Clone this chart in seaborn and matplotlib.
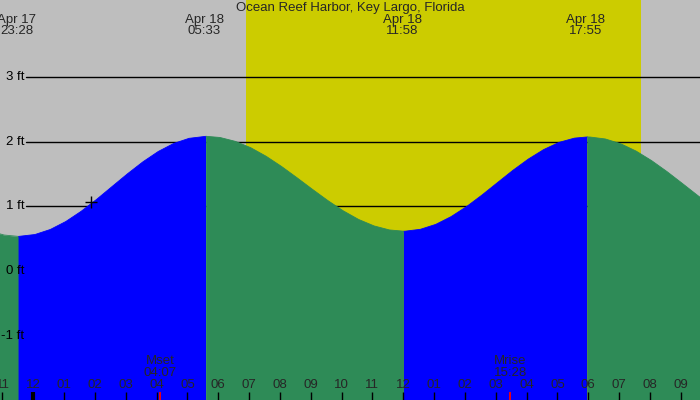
import numpy as np
import pandas as pd
import matplotlib
matplotlib.use("Agg")
import matplotlib.pyplot as plt
import matplotlib.transforms as mtransforms
import seaborn as sns

# ---------------- data ----------------
title = "Ocean Reef Harbor, Key Largo, Florida"

# hours relative to Apr 18 00:00
extreme_hours = [-0.533, 5.55, 11.967, 17.917]
extreme_heights = [0.54, 2.08, 0.62, 2.07]
extreme_dates = ["Apr 17", "Apr 18", "Apr 18", "Apr 18"]
extreme_times = ["23:28", "05:33", "11:58", "17:55"]

tide_hours = [-1.5, -1.0, -0.533, 0.0, 0.5, 1.0, 1.5, 2.0, 2.5, 3.0, 3.5, 4.0, 4.5,
              5.0, 5.55, 6.0, 6.5, 7.0, 7.5, 8.0, 8.5, 9.0, 9.5, 10.0, 10.5, 11.0,
              11.5, 11.967, 12.0, 12.5, 13.0, 13.5, 14.0, 14.5, 15.0, 15.5, 16.0,
              16.5, 17.0, 17.5, 17.917, 18.0, 18.5, 19.0, 19.5, 20.0, 20.5, 21.0,
              21.5, 22.0]
tide_heights = [0.627, 0.561, 0.540, 0.569, 0.647, 0.769, 0.927, 1.110, 1.307, 1.503,
                1.687, 1.847, 1.970, 2.049, 2.080, 2.062, 2.002, 1.904, 1.772, 1.615,
                1.442, 1.264, 1.091, 0.933, 0.800, 0.701, 0.639, 0.620, 0.620, 0.649,
                0.725, 0.845, 0.999, 1.177, 1.367, 1.556, 1.729, 1.876, 1.987, 2.052,
                2.070, 2.069, 2.039, 1.965, 1.852, 1.706, 1.537, 1.354, 1.168, 0.991]

sunrise_hour = 6.9
sunset_hour = 19.71

moon_hours = [4.117, 15.467]
moon_names = ["Mset", "Mrise"]
moon_times = ["04:07", "15:28"]

now_hour = 1.86
now_height = 1.075

hour_ticks = list(range(-1, 22))
hour_labels = ["11", "12", "01", "02", "03", "04", "05", "06", "07", "08", "09", "10",
               "11", "12", "01", "02", "03", "04", "05", "06", "07", "08", "09"]
midnight_hour = 0

ft_levels = [3, 2, 1, 0, -1]
ft_labels = ["3 ft", "2 ft", "1 ft", "0 ft", "-1 ft"]
grid_levels = [3, 2, 1]

# ---------------- style ----------------
GREY = "#bebebe"
YELLOW = "#cccc00"
BLUE = "#0000ff"
GREEN = "#2e8b57"

sns.set_style("white")
plt.rcParams["font.family"] = ["Liberation Sans", "DejaVu Sans"]
FS = 9.5

fig = plt.figure(figsize=(7, 4), dpi=100, facecolor=GREY)
ax = fig.add_axes([0, 0, 1, 1])
ax.set_facecolor(GREY)
ax.set_xlim(-1.08, 21.625)
ax.set_ylim(-1.977, 4.177)
ax.axis("off")

# daylight
ax.axvspan(sunrise_hour, sunset_hour, color=YELLOW, lw=0, zorder=0)

# grid lines
for lv in grid_levels:
    ax.axhline(lv, xmin=26 / 700, xmax=1, color="black", lw=1.0, zorder=1)

# tide fill (shifted ~1.7 px right, as in the reference rendering)
shift = ax.transData + mtransforms.ScaledTranslation(1.7 / 100, 0, fig.dpi_scale_trans)
df = pd.DataFrame({"hour": tide_hours, "height": tide_heights})
bounds = [-np.inf] + extreme_hours + [np.inf]
for i in range(len(bounds) - 1):
    a, b = bounds[i], bounds[i + 1]
    seg = df[(df["hour"] >= a) & (df["hour"] <= b)]
    if i < len(extreme_hours):
        rising = extreme_heights[i] > 1.3
    else:
        rising = extreme_heights[-1] < 1.3
    col = BLUE if rising else GREEN
    ax.fill_between(seg["hour"], -5, seg["height"], color=col, lw=0, zorder=2,
                    transform=shift)
    sns.lineplot(data=seg, x="hour", y="height", ax=ax, color=col, lw=0.6,
                 sort=False, estimator=None, zorder=2, legend=False, transform=shift)
ax.set_xlim(-1.08, 21.625)
ax.set_ylim(-1.977, 4.177)
ax.axis("off")

# now marker
ax.plot([now_hour], [now_height], marker="+", ms=8, mew=1.0, color="black", zorder=4)

# y labels
ytr = mtransforms.blended_transform_factory(ax.transAxes, ax.transData)
for lv, lab in zip(ft_levels, ft_labels):
    ax.text(24.5 / 700, lv, lab, transform=ytr, ha="right", va="center",
            fontsize=FS, color="black", zorder=5)

# top labels
xtr = ax.get_xaxis_transform()
ax.text(0.5, 1 - 7.5 / 400, title, transform=ax.transAxes, ha="center", va="center",
        fontsize=FS, zorder=5)
for h, d, t in zip(extreme_hours, extreme_dates, extreme_times):
    ax.text(h, 1 - 19.5 / 400, d, transform=xtr, ha="center", va="center", fontsize=FS, zorder=5)
    ax.text(h, 1 - 31.5 / 400, t, transform=xtr, ha="center", va="center", fontsize=FS, zorder=5)

# bottom hour labels and ticks
for h, lab in zip(hour_ticks, hour_labels):
    ax.text(h, 14.5 / 400, lab, transform=xtr, ha="center", va="center", fontsize=FS, zorder=5)
    lw = 3 if h == midnight_hour else 1
    ax.plot([h, h], [0, 8 / 400], transform=xtr, color="black", lw=lw,
            solid_capstyle="butt", zorder=5)

# moon
for h, n, t in zip(moon_hours, moon_names, moon_times):
    ax.plot([h, h], [0, 8 / 400], transform=xtr, color="red", lw=1.3,
            solid_capstyle="butt", zorder=6)
    ax.text(h, 1 - 361.5 / 400, n, transform=xtr, ha="center", va="center", fontsize=FS, zorder=5)
    ax.text(h, 1 - 373.5 / 400, t, transform=xtr, ha="center", va="center", fontsize=FS, zorder=5)

fig.savefig("out.png", dpi=100, facecolor=GREY)
